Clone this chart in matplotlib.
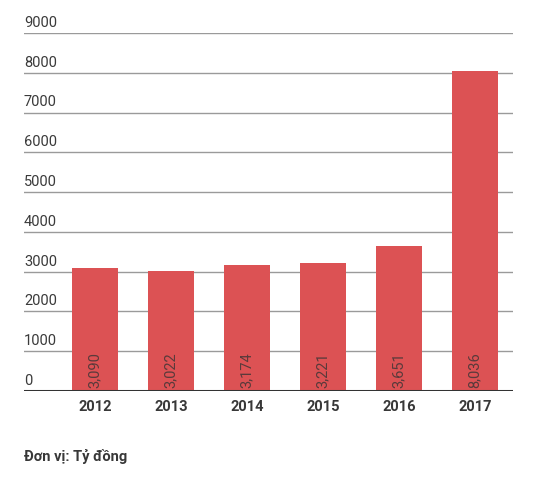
import matplotlib.pyplot as plt
import matplotlib.transforms as mtransforms

years = ["2012", "2013", "2014", "2015", "2016", "2017"]
values = [3090, 3022, 3174, 3221, 3651, 8036]
y_ticks = [0, 1000, 2000, 3000, 4000, 5000, 6000, 7000, 8000, 9000]
unit_note = "Đơn vị: Tỷ đồng"

plt.rcParams['font.family'] = ['Roboto', 'DejaVu Sans']

fig = plt.figure(figsize=(5.36, 4.79), dpi=100)
ax = fig.add_axes([24 / 536, 88 / 479, 489 / 536, 358 / 479])

x = list(range(len(years)))
ax.bar(x, values, width=0.61, color='#dc5254', zorder=2)

ax.set_xlim(-0.934, 5.5)
ax.set_ylim(0, 9000)

# gridlines with labels sitting above them
trans = mtransforms.blended_transform_factory(ax.transAxes, ax.transData)
for v in y_ticks:
    if v == 0:
        ax.axhline(v, color='#333333', lw=2.2, zorder=3)
    else:
        ax.axhline(v, color='#9a9a9a', lw=1, zorder=1)
    ax.annotate(str(v), xy=(0, v), xycoords=trans, xytext=(0, 2.2),
                textcoords='offset points', ha='left', va='bottom',
                fontsize=10.5, color='#3a3a3a')

# value labels inside bars
for i, v in zip(x, values):
    ax.annotate(f"{v:,}", xy=(i, 0), xytext=(0, 2), textcoords='offset points',
                rotation=90, ha='center', va='bottom', fontsize=10.5,
                color='#5a3a3b', zorder=4)

ax.set_xticks(x)
ax.set_xticklabels(years, fontsize=10.5, fontweight='bold', color='#383838')
ax.tick_params(axis='x', length=0, pad=6.5)
ax.set_yticks([])
for s in ax.spines.values():
    s.set_visible(False)

fig.text(24 / 536, 1 - 457 / 479, unit_note, ha='left', va='center',
         fontsize=10.5, fontweight='bold', color='#383838')

fig.savefig("out.png", dpi=100)
